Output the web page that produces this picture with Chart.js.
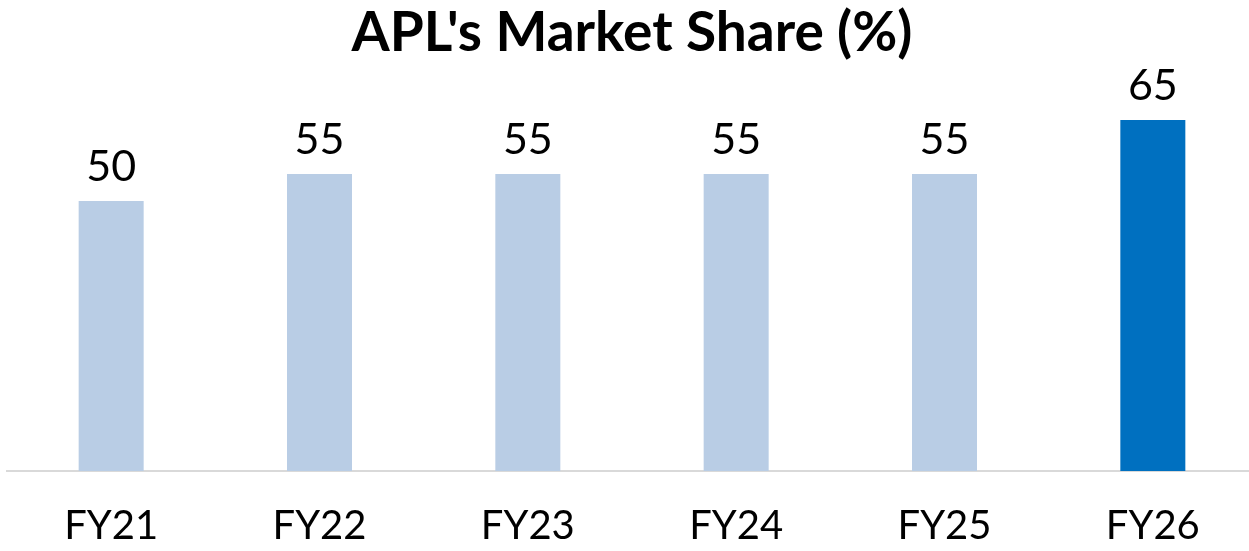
<!DOCTYPE html>
<html>
<head>
<meta charset="utf-8">
<script src="https://cdn.jsdelivr.net/npm/chart.js@4"></script>
<style>
    body { margin: 0; overflow: hidden; background: #fff; }
    #wrap { position: absolute; left: 0; top: 0; width: 1257px; height: 551px; }
</style>
</head>
<body>
<div id="wrap"><canvas id="chart"></canvas></div>
<script>
// Chart data
const years = ['FY21', 'FY22', 'FY23', 'FY24', 'FY25', 'FY26'];
const share = [50, 55, 55, 55, 55, 65];
const barColors = ['#B9CDE5', '#B9CDE5', '#B9CDE5', '#B9CDE5', '#B9CDE5', '#0070C0'];

const fontFamily = 'Lato, "DejaVu Sans", sans-serif';

// Draw the numbers above each bar
const valueLabels = {
    id: 'valueLabels',
    afterDatasetsDraw(chart) {
        const ctx = chart.ctx;
        const meta = chart.getDatasetMeta(0);
        ctx.save();
        ctx.font = `43px ${fontFamily}`;
        ctx.fillStyle = '#000';
        ctx.textAlign = 'center';
        ctx.textBaseline = 'alphabetic';
        meta.data.forEach((bar, i) => {
            ctx.fillText(share[i], bar.x, bar.y - 20);
        });
        ctx.restore();
    }
};

new Chart(document.getElementById('chart'), {
    type: 'bar',
    data: {
        labels: years,
        datasets: [{
            data: share,
            backgroundColor: barColors,
            barPercentage: 0.312,
            categoryPercentage: 1
        }]
    },
    options: {
        responsive: true,
        maintainAspectRatio: false,
        animation: false,
        layout: { padding: { left: 7, right: 0, top: 0, bottom: -22 } },
        plugins: {
            legend: { display: false },
            tooltip: { enabled: false },
            title: {
                display: true,
                text: "APL's Market Share (%)",
                color: '#000',
                font: { family: fontFamily, size: 55, weight: 'bold' },
                padding: { top: 0, bottom: 27 }
            }
        },
        scales: {
            x: {
                grid: { display: false },
                border: { display: true, color: '#D9D9D9', width: 2 },
                ticks: {
                    color: '#000',
                    font: { family: fontFamily, size: 40 },
                    padding: 23
                }
            },
            y: {
                display: false,
                min: 0,
                max: 70
            }
        }
    },
    plugins: [valueLabels]
});
</script>
</body>
</html>
